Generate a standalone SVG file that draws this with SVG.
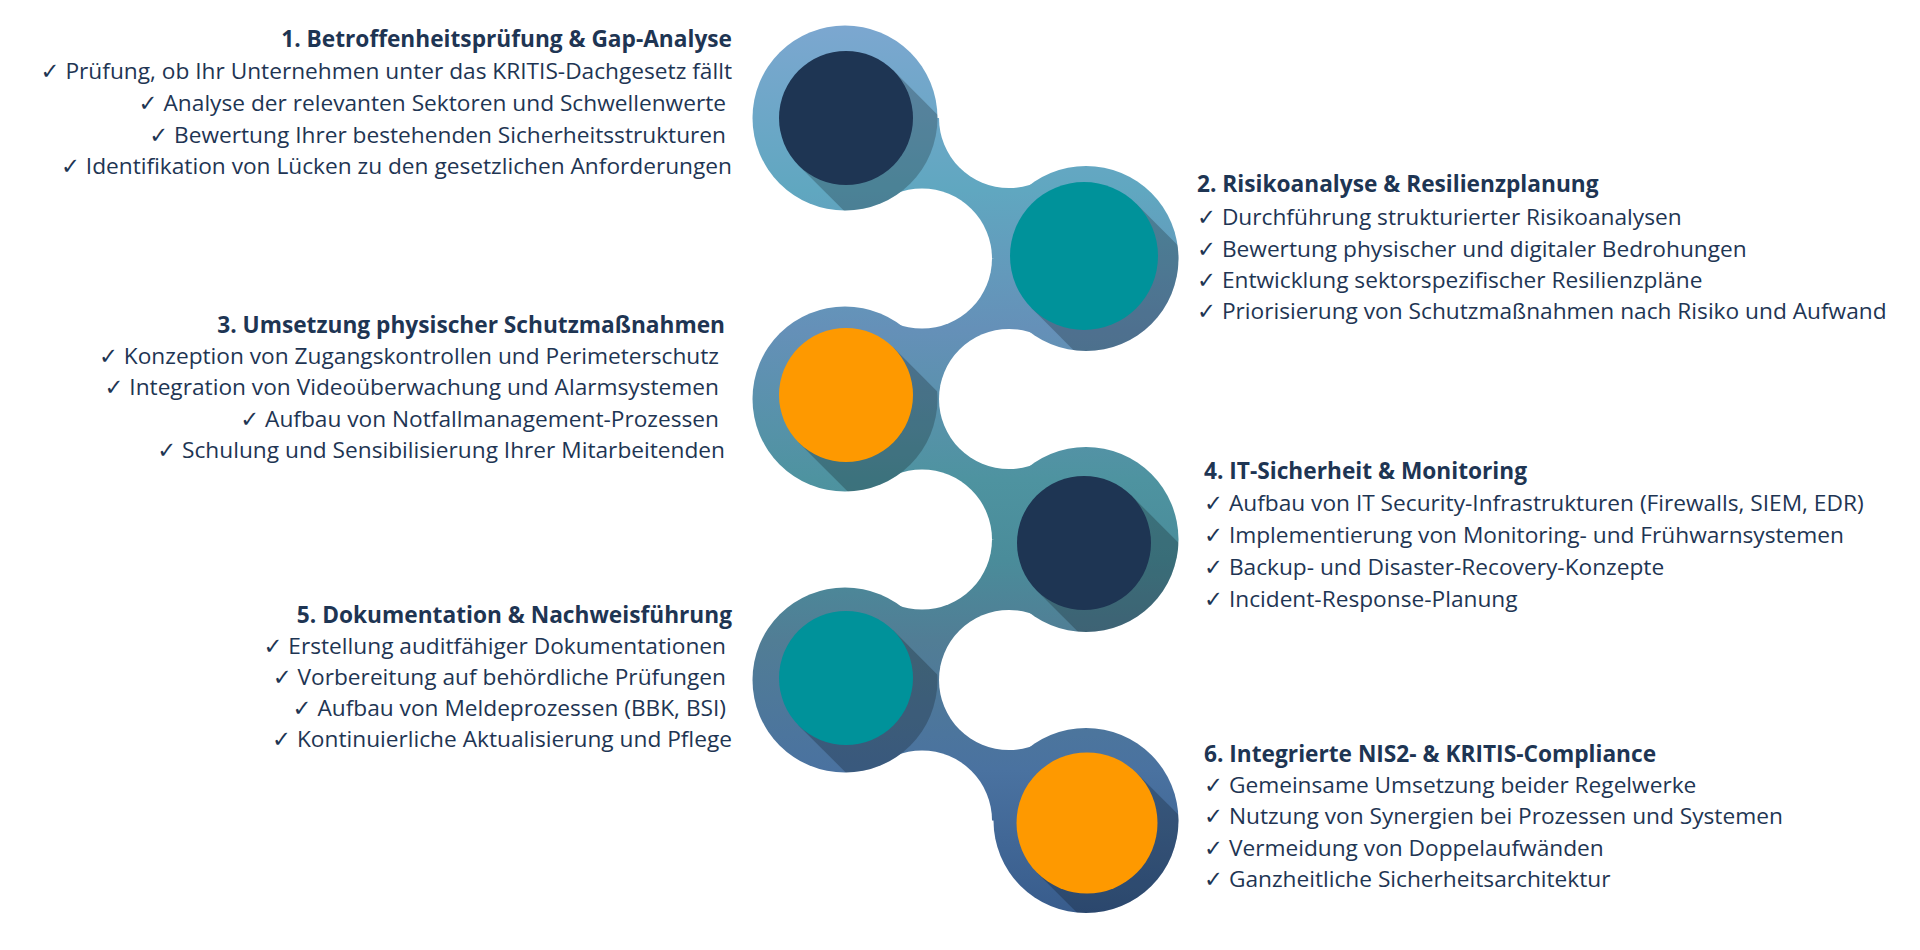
<svg xmlns="http://www.w3.org/2000/svg" width="1920" height="950" viewBox="0 0 1920 950">
<style>
.t{font-family:"Open Sans","Noto Sans","DejaVu Sans",sans-serif;fill:#1e3553;font-size:22.7px}
.h{font-weight:700}
.l{text-anchor:end}
.bay{fill:#ffffff}
.sh{fill:#000000;fill-opacity:0.22}
.blob{fill:url(#g)}
</style>
<defs>
<linearGradient id="g" gradientUnits="userSpaceOnUse" x1="0" y1="25" x2="0" y2="913">
<stop offset="0" stop-color="#7ca7d0"/>
<stop offset="0.186" stop-color="#60a7c0"/>
<stop offset="0.343" stop-color="#6590b8"/>
<stop offset="0.512" stop-color="#4e93a0"/>
<stop offset="0.602" stop-color="#4a8c9a"/>
<stop offset="0.693" stop-color="#517d95"/>
<stop offset="0.839" stop-color="#4a72a0"/>
<stop offset="1" stop-color="#385c8c"/>
</linearGradient>
<clipPath id="c1"><circle cx="845" cy="118" r="92.5"/></clipPath>
<clipPath id="c2"><circle cx="1086" cy="258.5" r="92.5"/></clipPath>
<clipPath id="c3"><circle cx="845" cy="399" r="92.5"/></clipPath>
<clipPath id="c4"><circle cx="1086" cy="539.5" r="92.5"/></clipPath>
<clipPath id="c5"><circle cx="845" cy="680" r="92.5"/></clipPath>
<clipPath id="c6"><circle cx="1086" cy="820.5" r="92.5"/></clipPath>
</defs>
<rect width="1920" height="950" fill="#ffffff"/>
<g id="connectors">
<polygon class="blob" points="845,118 1009,118 1086,258.5 922,258.5"/>
<polygon class="blob" points="1086,258.5 922,258.5 845,399 1009,399"/>
<polygon class="blob" points="845,399 1009,399 1086,539.5 922,539.5"/>
<polygon class="blob" points="1086,539.5 922,539.5 845,680 1009,680"/>
<polygon class="blob" points="845,680 1009,680 1086,820.5 922,820.5"/>
<circle class="bay" cx="1009" cy="118" r="70"/>
<circle class="bay" cx="922" cy="258.5" r="70"/>
<circle class="bay" cx="1009" cy="399" r="70"/>
<circle class="bay" cx="922" cy="539.5" r="70"/>
<circle class="bay" cx="1009" cy="680" r="70"/>
<circle class="bay" cx="922" cy="820.5" r="70"/>
</g>
<g id="node1">
<circle class="blob" cx="845" cy="118" r="92.5"/>
<polygon class="sh" clip-path="url(#c1)" points="893.4,70.6 1093.4,270.6 998.6,365.4 798.6,165.4"/>
<circle cx="846" cy="118" r="67" fill="#1e3553"/>
<text class="t h l" x="732" y="47">1. Betroffenheitsprüfung &amp; Gap-Analyse</text>
<text class="t l" x="732" y="79">✓ Prüfung, ob Ihr Unternehmen unter das KRITIS-Dachgesetz fällt</text>
<text class="t l" x="726" y="111">✓ Analyse der relevanten Sektoren und Schwellenwerte</text>
<text class="t l" x="726" y="143">✓ Bewertung Ihrer bestehenden Sicherheitsstrukturen</text>
<text class="t l" x="732" y="174">✓ Identifikation von Lücken zu den gesetzlichen Anforderungen</text>
</g>
<g id="node2">
<circle class="blob" cx="1086" cy="258.5" r="92.5"/>
<polygon class="sh" clip-path="url(#c2)" points="1136.3,203.7 1336.3,403.7 1231.7,508.3 1031.7,308.3"/>
<circle cx="1084" cy="256" r="74" fill="#00929a"/>
<text class="t h" x="1197" y="192">2. Risikoanalyse &amp; Resilienzplanung</text>
<text class="t" x="1197" y="225">✓ Durchführung strukturierter Risikoanalysen</text>
<text class="t" x="1197" y="257">✓ Bewertung physischer und digitaler Bedrohungen</text>
<text class="t" x="1197" y="288">✓ Entwicklung sektorspezifischer Resilienzpläne</text>
<text class="t" x="1197" y="319">✓ Priorisierung von Schutzmaßnahmen nach Risiko und Aufwand</text>
</g>
<g id="node3">
<circle class="blob" cx="845" cy="399" r="92.5"/>
<polygon class="sh" clip-path="url(#c3)" points="893.4,347.6 1093.4,547.6 998.6,642.4 798.6,442.4"/>
<circle cx="846" cy="395" r="67" fill="#fe9900"/>
<text class="t h l" x="725" y="333">3. Umsetzung physischer Schutzmaßnahmen</text>
<text class="t l" x="719" y="364">✓ Konzeption von Zugangskontrollen und Perimeterschutz</text>
<text class="t l" x="719" y="395">✓ Integration von Videoüberwachung und Alarmsystemen</text>
<text class="t l" x="719" y="427">✓ Aufbau von Notfallmanagement-Prozessen</text>
<text class="t l" x="725" y="458">✓ Schulung und Sensibilisierung Ihrer Mitarbeitenden</text>
</g>
<g id="node4">
<circle class="blob" cx="1086" cy="539.5" r="92.5"/>
<polygon class="sh" clip-path="url(#c4)" points="1131.4,495.6 1331.4,695.6 1236.6,790.4 1036.6,590.4"/>
<circle cx="1084" cy="543" r="67" fill="#1e3553"/>
<text class="t h" x="1204" y="479">4. IT-Sicherheit &amp; Monitoring</text>
<text class="t" x="1204" y="511">✓ Aufbau von IT Security-Infrastrukturen (Firewalls, SIEM, EDR)</text>
<text class="t" x="1204" y="543">✓ Implementierung von Monitoring- und Frühwarnsystemen</text>
<text class="t" x="1204" y="575">✓ Backup- und Disaster-Recovery-Konzepte</text>
<text class="t" x="1204" y="607">✓ Incident-Response-Planung</text>
</g>
<g id="node5">
<circle class="blob" cx="845" cy="680" r="92.5"/>
<polygon class="sh" clip-path="url(#c5)" points="893.4,630.6 1093.4,830.6 998.6,925.4 798.6,725.4"/>
<circle cx="846" cy="678" r="67" fill="#00929a"/>
<text class="t h l" x="732" y="623">5. Dokumentation &amp; Nachweisführung</text>
<text class="t l" x="726" y="654">✓ Erstellung auditfähiger Dokumentationen</text>
<text class="t l" x="726" y="685">✓ Vorbereitung auf behördliche Prüfungen</text>
<text class="t l" x="726" y="716">✓ Aufbau von Meldeprozessen (BBK, BSI)</text>
<text class="t l" x="732" y="747">✓ Kontinuierliche Aktualisierung und Pflege</text>
</g>
<g id="node6">
<circle class="blob" cx="1086" cy="820.5" r="92.5"/>
<polygon class="sh" clip-path="url(#c6)" points="1136.9,773.2 1336.9,973.2 1237.2,1072.9 1037.2,872.9"/>
<circle cx="1087" cy="823" r="70.5" fill="#fe9900"/>
<text class="t h" x="1204" y="762">6. Integrierte NIS2- &amp; KRITIS-Compliance</text>
<text class="t" x="1204" y="793">✓ Gemeinsame Umsetzung beider Regelwerke</text>
<text class="t" x="1204" y="824">✓ Nutzung von Synergien bei Prozessen und Systemen</text>
<text class="t" x="1204" y="856">✓ Vermeidung von Doppelaufwänden</text>
<text class="t" x="1204" y="887">✓ Ganzheitliche Sicherheitsarchitektur</text>
</g>
</svg>
